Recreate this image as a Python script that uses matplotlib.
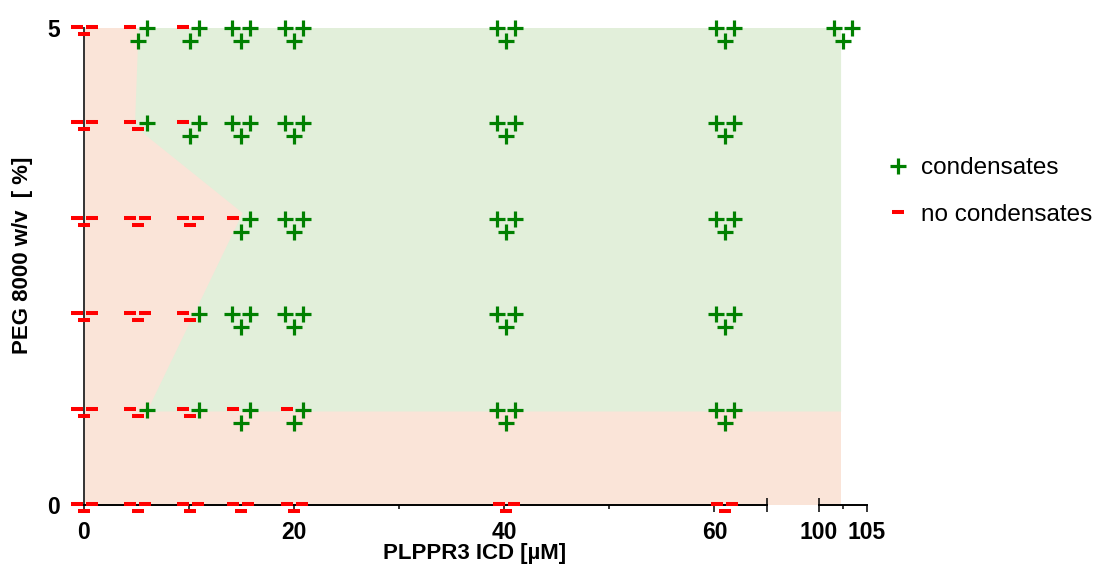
import matplotlib
matplotlib.use('Agg')
import matplotlib.pyplot as plt
from matplotlib.lines import Line2D
from matplotlib.patches import Polygon, Rectangle
from matplotlib import transforms

plt.rcParams['font.family'] = ['Liberation Sans', 'DejaVu Sans']

# ---- data ----
conc_pos = [0, 5.1, 10.1, 14.9, 20, 40.2, 61, 102.5]   # PLPPR3 ICD [uM], plotted position
peg_levels = [0, 1, 2, 3, 4, 5]                        # PEG 8000 w/v [%]
# replicates (left, right, lower): c = condensates, n = no condensates, '' = not tested
outcome = {
    5: ['nnn', 'ncc', 'ncc', 'ccc', 'ccc', 'ccc', 'ccc', 'ccc'],
    4: ['nnn', 'ncn', 'ncc', 'ccc', 'ccc', 'ccc', 'ccc', ''],
    3: ['nnn', 'nnn', 'nnn', 'ncc', 'ccc', 'ccc', 'ccc', ''],
    2: ['nnn', 'nnn', 'ncn', 'ccc', 'ccc', 'ccc', 'ccc', ''],
    1: ['nnn', 'ncn', 'ncn', 'ncc', 'ncc', 'ccc', 'ccc', ''],
    0: ['nnn', 'nnn', 'nnn', 'nnn', 'nnn', 'nnn', 'nnn', ''],
}
# phase boundary of the condensate region
phase_x = [5.2, 102.3, 102.3, 6.0, 15.1, 5.6, 4.85]
phase_y = [5.0, 5.0, 0.98, 0.98, 3.06, 3.9, 3.99]
region_right = 102.3

ticks1 = [0, 20, 40, 60, 65]
ticks1_lab = ['0', '20', '40', '60', '']
ticks2 = [100, 105]

# ---- style ----
W, H = 1099, 574
GREEN, RED = '#008000', '#ff0000'
PINK, LGREEN = '#fae4d8', '#e2efda'
# offsets (pixels) of the three replicates inside a cluster
offs = {'c': [(-9, 0), (9, 0), (0, -13)],
        'n': [(-7.5, 1), (7.5, 1), (0, -6)]}
mk = {'c': dict(marker='+', color=GREEN, ms=12, mew=2.3),
      'n': dict(marker='_', color=RED, ms=8.3, mew=2.9)}

fig = plt.figure(figsize=(W / 100, H / 100), dpi=100)
y0, y5 = 505, 28
ax1 = fig.add_axes([84 / W, (H - y0) / H, (767 - 84) / W, (y0 - y5) / H])
ax2 = fig.add_axes([819 / W, (H - y0) / H, (867 - 819) / W, (y0 - y5) / H])
ax1.set_xlim(0, 65)
ax2.set_xlim(100, 105)
for a in (ax1, ax2):
    a.set_ylim(0, 5)
    a.patch.set_visible(False)
    a.spines['top'].set_visible(False)
    a.spines['right'].set_visible(False)
    a.spines['bottom'].set_linewidth(1.4)
ax2.spines['left'].set_visible(False)
ax1.spines['left'].set_linewidth(1.4)
ax1.spines['left'].set_color('#333333')


def to_ax1(xs):
    res = []
    for x in xs:
        if x > 65:
            d = ax2.transData.transform((x, 0))
            x = ax1.transData.inverted().transform(d)[0]
        res.append(x)
    return res


# background regions
ax1.add_patch(Rectangle((0, 0), to_ax1([region_right])[0], 5, fc=PINK, ec='none',
                        clip_on=False, zorder=0))
ax1.add_patch(Polygon(list(zip(to_ax1(phase_x), phase_y)), closed=True, fc=LGREEN,
                      ec='none', clip_on=False, zorder=0.5))

# markers
for kind in ('n', 'c'):
    for r in range(3):
        for a, sel in ((ax1, lambda x: x <= 65), (ax2, lambda x: x > 65)):
            xs, ys = [], []
            for p in peg_levels:
                for x, o in zip(conc_pos, outcome[p]):
                    if o and o[r] == kind and sel(x):
                        xs.append(x)
                        ys.append(p)
            if not xs:
                continue
            dx, dy = offs[kind][r]
            tr = transforms.offset_copy(a.transData, fig=fig, x=dx, y=dy, units='dots')
            a.plot(xs, ys, ls='none', transform=tr, clip_on=False, zorder=3, **mk[kind])

# axes ticks
ax1.set_xticks(ticks1)
ax1.set_xticklabels(ticks1_lab)
ax1.set_xticks([10, 30, 50], minor=True)
ax2.set_xticks(ticks2)
ax2.set_xticklabels([str(t) for t in ticks2])
ax2.set_xticks([102.5], minor=True)
for a in (ax1, ax2):
    a.tick_params(axis='x', which='major', length=5, width=1.1, pad=6.5,
                  labelsize=16.5)
    a.tick_params(axis='x', which='minor', length=3, width=1.1)
    for lab in a.get_xticklabels():
        lab.set_fontweight('bold')
ax2.set_yticks([])
ax1.set_yticks(peg_levels)
ax1.set_yticklabels(['0', '', '', '', '', '5'], fontweight='bold')
ax1.tick_params(axis='y', length=2.2, width=1.1, pad=15, labelsize=16.5, color='#333333')

# end caps of the broken axis
for t in (ax1.xaxis.get_major_ticks()[-1], ax2.xaxis.get_major_ticks()[0]):
    t.tick1line.set_marker('|')
    t.tick1line.set_markersize(10)

fig.text(475 / W, 1 - 553 / H, 'PLPPR3 ICD [\u00b5M]', ha='center', va='center',
         fontsize=16, fontweight='bold')
fig.text(23 / W, 1 - 255 / H, 'PEG 8000 w/v  [ %]', ha='center', va='center',
         rotation=90, fontsize=16, fontweight='bold')

handles = [Line2D([], [], ls='none', **mk['c']), Line2D([], [], ls='none', **mk['n'])]
fig.legend(handles, ['condensates', 'no condensates'], loc='center left',
           bbox_to_anchor=(886 / W, 1 - 191.5 / H), frameon=False, borderpad=0,
           borderaxespad=0, handlelength=1, handletextpad=0.45, labelspacing=1.0,
           prop={'size': 17.5})

fig.savefig('out.png', dpi=100)
